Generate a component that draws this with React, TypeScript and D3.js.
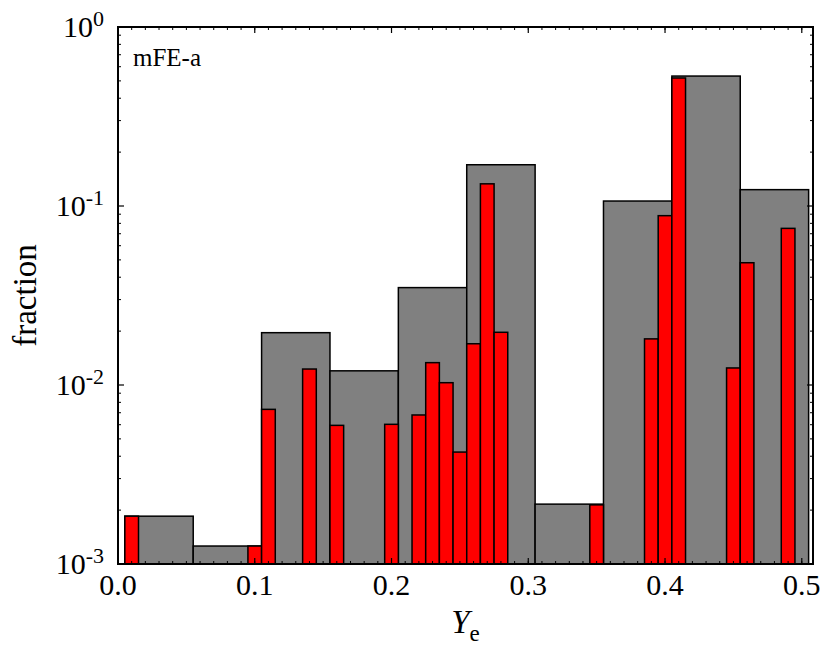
import React from "react";
import * as d3 from "d3";

// Coarse histogram (bin width 0.05, bins start at 0.005)
const grayBinStarts = [0.005, 0.055, 0.105, 0.155, 0.205, 0.255, 0.305, 0.355, 0.405, 0.455];
const grayValues = [0.00185, 0.00126, 0.0196, 0.012, 0.035, 0.17, 0.00216, 0.1066, 0.532, 0.1234];
const grayWidth = 0.05;

// Fine histogram (bin width 0.01), bin centers
const redCenters = [0.01, 0.1, 0.11, 0.14, 0.16, 0.2, 0.22, 0.23, 0.24, 0.25, 0.26, 0.27, 0.28, 0.35, 0.39, 0.4, 0.41, 0.45, 0.46, 0.49];
const redValues = [0.00185, 0.00126, 0.00731, 0.01228, 0.00595, 0.00603, 0.0068, 0.01333, 0.0103, 0.00422, 0.017, 0.133, 0.0197, 0.00214, 0.0181, 0.0883, 0.519, 0.01245, 0.0482, 0.075];
const redWidth = 0.01;

const xTickValues = [0, 0.1, 0.2, 0.3, 0.4, 0.5];
const xTickLabels = ["0.0", "0.1", "0.2", "0.3", "0.4", "0.5"];
const yTickValues = [1, 0.1, 0.01, 0.001];
const yTickExponents = ["0", "-1", "-2", "-3"];

const panelLabel = "mFE-a";
const yLabel = "fraction";

const W = 830;
const H = 656;
const L = 118;
const R = 813;
const T = 27;
const B = 564;

export default function App() {
  const x = d3.scaleLinear().domain([0, 0.5082]).range([L, R]);
  const y = d3.scaleLog().domain([0.001, 1]).range([B, T]);

  const xMinor = d3.range(0, 51).map((i) => i / 100).filter((v) => x(v) < R - 1);
  const yMinor: number[] = [];
  [0.001, 0.01, 0.1].forEach((d) => {
    for (let m = 2; m <= 9; m++) yMinor.push(d * m);
  });

  const font = "Liberation Serif, Times New Roman, Times, serif";
  const stroke = "#000";

  return (
    <svg
      width={W}
      height={H}
      style={{ position: "absolute", left: 0, top: 0, background: "#fff", fontFamily: font }}
    >
      <rect x={0} y={0} width={W} height={H} fill="#fff" />
      {/* gray coarse bars */}
      {grayBinStarts.map((s, i) => (
        <rect
          key={"g" + i}
          x={x(s)}
          y={y(grayValues[i])}
          width={x(s + grayWidth) - x(s)}
          height={B - y(grayValues[i])}
          fill="#808080"
          stroke={stroke}
          strokeWidth={1.5}
        />
      ))}
      {/* red fine bars */}
      {redCenters.map((c, i) => (
        <rect
          key={"r" + i}
          x={x(c - redWidth / 2)}
          y={y(redValues[i])}
          width={x(c + redWidth / 2) - x(c - redWidth / 2)}
          height={B - y(redValues[i])}
          fill="#ff0000"
          stroke={stroke}
          strokeWidth={1.5}
        />
      ))}
      {/* frame */}
      <rect x={L} y={T} width={R - L} height={B - T} fill="none" stroke={stroke} strokeWidth={2} />
      {/* x ticks */}
      {xMinor.map((v, i) => (
        <g key={"xm" + i}>
          <line x1={x(v)} x2={x(v)} y1={B} y2={B - 3} stroke={stroke} strokeWidth={1} />
          <line x1={x(v)} x2={x(v)} y1={T} y2={T + 3} stroke={stroke} strokeWidth={1} />
        </g>
      ))}
      {xTickValues.map((v, i) => (
        <g key={"xM" + i}>
          <line x1={x(v)} x2={x(v)} y1={B} y2={B - 6} stroke={stroke} strokeWidth={1.2} />
          <line x1={x(v)} x2={x(v)} y1={T} y2={T + 6} stroke={stroke} strokeWidth={1.2} />
          <text x={x(v)} y={595} textAnchor="middle" fontSize={30} fill="#000" style={{ fontFamily: font }}>
            {xTickLabels[i]}
          </text>
        </g>
      ))}
      {/* y ticks */}
      {yMinor.map((v, i) => (
        <g key={"ym" + i}>
          <line x1={L} x2={L + 3} y1={y(v)} y2={y(v)} stroke={stroke} strokeWidth={1} />
          <line x1={R} x2={R - 3} y1={y(v)} y2={y(v)} stroke={stroke} strokeWidth={1} />
        </g>
      ))}
      {yTickValues.map((v, i) => (
        <g key={"yM" + i}>
          <line x1={L} x2={L + 6} y1={y(v)} y2={y(v)} stroke={stroke} strokeWidth={1.2} />
          <line x1={R} x2={R - 6} y1={y(v)} y2={y(v)} stroke={stroke} strokeWidth={1.2} />
          <text x={104} y={y(v) + 10} textAnchor="end" fontSize={30} fill="#000" style={{ fontFamily: font }}>
            10
            <tspan fontSize={22} dy={-11}>
              {yTickExponents[i]}
            </tspan>
          </text>
        </g>
      ))}
      {/* labels */}
      <text x={133} y={66} fontSize={25} fill="#000" style={{ fontFamily: font }}>
        {panelLabel}
      </text>
      <text
        transform={`translate(36,${(T + B) / 2}) rotate(-90)`}
        textAnchor="middle"
        fontSize={33}
        fill="#000"
        style={{ fontFamily: font }}
      >
        {yLabel}
      </text>
      <text x={(L + R) / 2} y={633} textAnchor="middle" fontSize={33} fill="#000" style={{ fontFamily: font }}>
        <tspan fontStyle="italic">Y</tspan>
        <tspan fontSize={23} dy={8}>e</tspan>
      </text>
    </svg>
  );
}
